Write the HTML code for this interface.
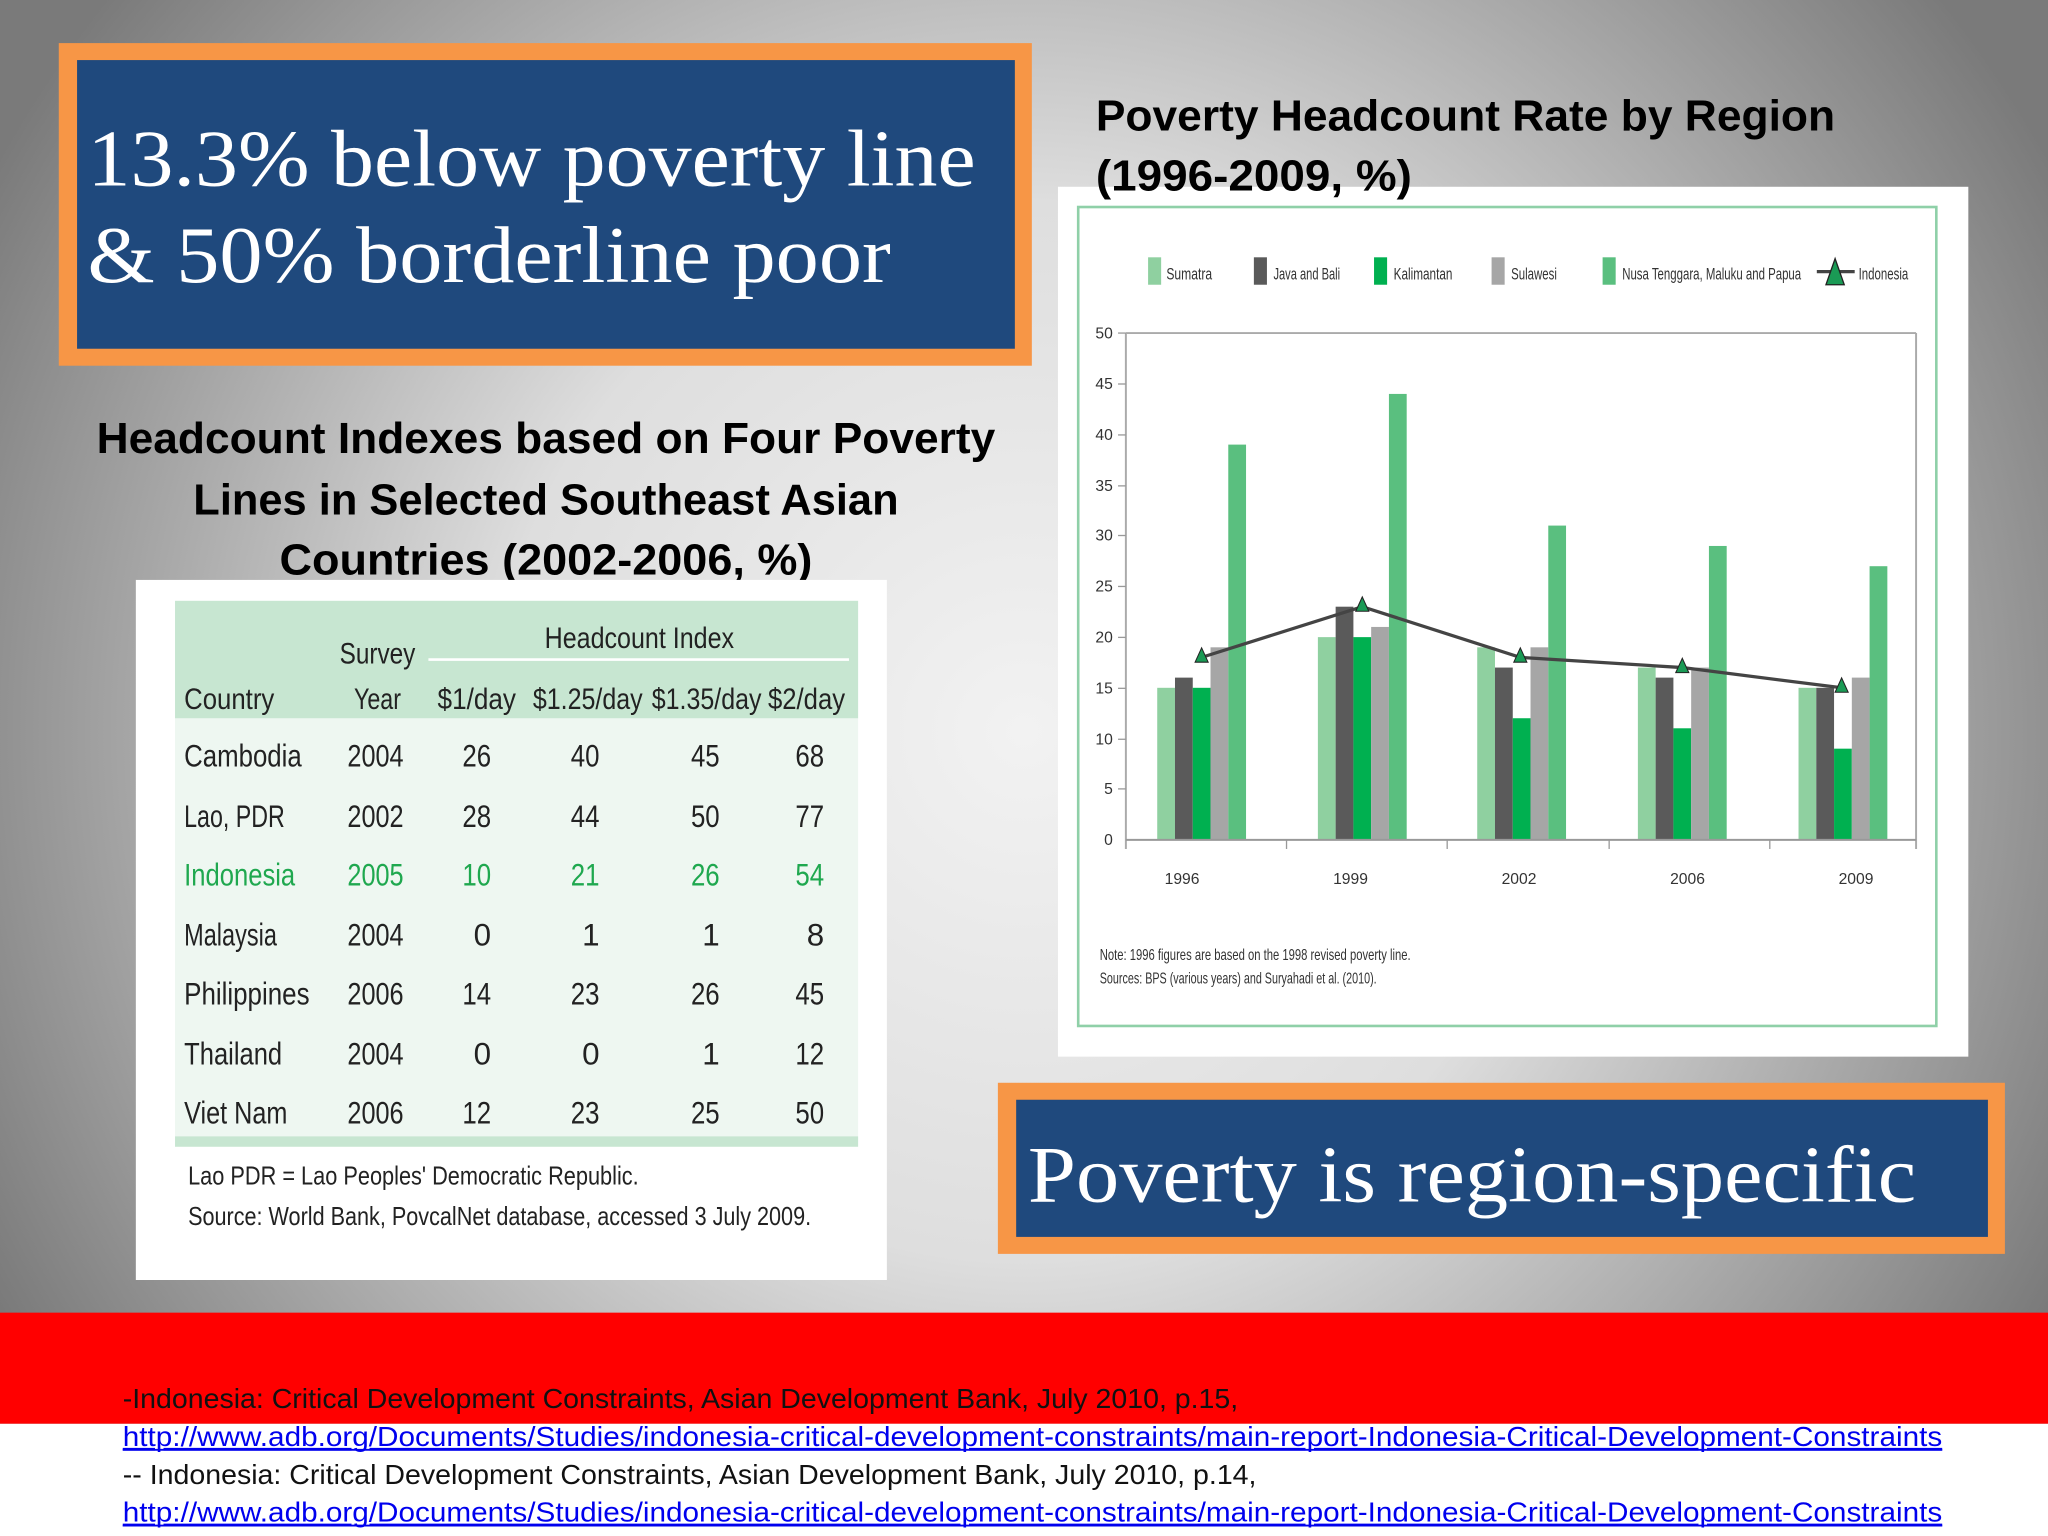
<!DOCTYPE html>
<html><head><meta charset="utf-8"><style>html,body{margin:0;padding:0;background:#fff}svg{display:block}</style></head>
<body>
<svg width="2048" height="1536" viewBox="0 0 1568 1176" xmlns="http://www.w3.org/2000/svg">
<defs>
<radialGradient id="bg" cx="784" cy="560" r="900" gradientUnits="userSpaceOnUse">
<stop offset="0" stop-color="#f2f2f2"/><stop offset="0.45" stop-color="#dedede"/><stop offset="1" stop-color="#7a7a7a"/>
</radialGradient>
</defs>
<rect x="0" y="0" width="1568" height="1176" fill="url(#bg)"/>
<rect x="0" y="1090" width="1568" height="86" fill="#ffffff"/>
<rect x="0" y="1005" width="1568" height="85" fill="#ff0000"/>

<rect x="45" y="33" width="745" height="247" fill="#f79646"/>
<rect x="59" y="46" width="718" height="221" fill="#1f497d"/>
<g font-family="Liberation Serif, serif" fill="#fff" font-size="62">
<text x="67" y="142" textLength="680" lengthAdjust="spacingAndGlyphs">13.3% below poverty line</text>
<text x="67" y="216" textLength="615" lengthAdjust="spacingAndGlyphs">&amp; 50% borderline poor</text>
</g>

<g font-family="Liberation Sans, sans-serif" font-weight="bold" font-size="33" fill="#000">
<text x="74" y="347" textLength="688" lengthAdjust="spacingAndGlyphs">Headcount Indexes based on Four Poverty</text>
<text x="148" y="394" textLength="540" lengthAdjust="spacingAndGlyphs">Lines in Selected Southeast Asian</text>
<text x="214" y="440" textLength="408" lengthAdjust="spacingAndGlyphs">Countries (2002-2006, %)</text>
</g>

<rect x="104" y="444" width="575" height="536" fill="#fff"/>
<rect x="134" y="460" width="523" height="90" fill="#c7e6d1"/>
<rect x="134" y="550" width="523" height="320" fill="#eef7f1"/>
<rect x="134" y="870" width="523" height="8" fill="#c7e6d1"/>
<line x1="328" y1="505" x2="650" y2="505" stroke="#fff" stroke-width="2"/>
<g font-family="Liberation Sans, sans-serif" font-size="23" fill="#222" lengthAdjust="spacingAndGlyphs">
<text x="260" y="508" textLength="58" lengthAdjust="spacingAndGlyphs">Survey</text>
<text x="417" y="496" textLength="145" lengthAdjust="spacingAndGlyphs">Headcount Index</text>
<text x="141" y="543" textLength="69" lengthAdjust="spacingAndGlyphs">Country</text>
<text x="271" y="543" textLength="36" lengthAdjust="spacingAndGlyphs">Year</text>
<text x="335" y="543" textLength="60" lengthAdjust="spacingAndGlyphs">$1/day</text>
<text x="408" y="543" textLength="84" lengthAdjust="spacingAndGlyphs">$1.25/day</text>
<text x="499" y="543" textLength="84" lengthAdjust="spacingAndGlyphs">$1.35/day</text>
<text x="588" y="543" textLength="59" lengthAdjust="spacingAndGlyphs">$2/day</text>
</g>
<g font-family="Liberation Sans, sans-serif" font-size="24" fill="#222">
<g transform="translate(0,587)"><text x="141" textLength="90" lengthAdjust="spacingAndGlyphs">Cambodia</text><text x="266" textLength="43" lengthAdjust="spacingAndGlyphs">2004</text><text x="354" textLength="22" lengthAdjust="spacingAndGlyphs">26</text><text x="437" textLength="22" lengthAdjust="spacingAndGlyphs">40</text><text x="529" textLength="22" lengthAdjust="spacingAndGlyphs">45</text><text x="609" textLength="22" lengthAdjust="spacingAndGlyphs">68</text></g>
<g transform="translate(0,633)"><text x="141" textLength="77" lengthAdjust="spacingAndGlyphs">Lao, PDR</text><text x="266" textLength="43" lengthAdjust="spacingAndGlyphs">2002</text><text x="354" textLength="22" lengthAdjust="spacingAndGlyphs">28</text><text x="437" textLength="22" lengthAdjust="spacingAndGlyphs">44</text><text x="529" textLength="22" lengthAdjust="spacingAndGlyphs">50</text><text x="609" textLength="22" lengthAdjust="spacingAndGlyphs">77</text></g>
<g transform="translate(0,678)" fill="#1fa84f"><text x="141" textLength="85" lengthAdjust="spacingAndGlyphs">Indonesia</text><text x="266" textLength="43" lengthAdjust="spacingAndGlyphs">2005</text><text x="354" textLength="22" lengthAdjust="spacingAndGlyphs">10</text><text x="437" textLength="22" lengthAdjust="spacingAndGlyphs">21</text><text x="529" textLength="22" lengthAdjust="spacingAndGlyphs">26</text><text x="609" textLength="22" lengthAdjust="spacingAndGlyphs">54</text></g>
<g transform="translate(0,724)"><text x="141" textLength="71" lengthAdjust="spacingAndGlyphs">Malaysia</text><text x="266" textLength="43" lengthAdjust="spacingAndGlyphs">2004</text><text x="376" text-anchor="end">0</text><text x="459" text-anchor="end">1</text><text x="551" text-anchor="end">1</text><text x="631" text-anchor="end">8</text></g>
<g transform="translate(0,769)"><text x="141" textLength="96" lengthAdjust="spacingAndGlyphs">Philippines</text><text x="266" textLength="43" lengthAdjust="spacingAndGlyphs">2006</text><text x="354" textLength="22" lengthAdjust="spacingAndGlyphs">14</text><text x="437" textLength="22" lengthAdjust="spacingAndGlyphs">23</text><text x="529" textLength="22" lengthAdjust="spacingAndGlyphs">26</text><text x="609" textLength="22" lengthAdjust="spacingAndGlyphs">45</text></g>
<g transform="translate(0,815)"><text x="141" textLength="75" lengthAdjust="spacingAndGlyphs">Thailand</text><text x="266" textLength="43" lengthAdjust="spacingAndGlyphs">2004</text><text x="376" text-anchor="end">0</text><text x="459" text-anchor="end">0</text><text x="551" text-anchor="end">1</text><text x="609" textLength="22" lengthAdjust="spacingAndGlyphs">12</text></g>
<g transform="translate(0,860)"><text x="141" textLength="79" lengthAdjust="spacingAndGlyphs">Viet Nam</text><text x="266" textLength="43" lengthAdjust="spacingAndGlyphs">2006</text><text x="354" textLength="22" lengthAdjust="spacingAndGlyphs">12</text><text x="437" textLength="22" lengthAdjust="spacingAndGlyphs">23</text><text x="529" textLength="22" lengthAdjust="spacingAndGlyphs">25</text><text x="609" textLength="22" lengthAdjust="spacingAndGlyphs">50</text></g>
</g>
<g font-family="Liberation Sans, sans-serif" font-size="20" fill="#222">
<text x="144" y="907" textLength="345" lengthAdjust="spacingAndGlyphs">Lao PDR = Lao Peoples' Democratic Republic.</text>
<text x="144" y="938" textLength="477" lengthAdjust="spacingAndGlyphs">Source: World Bank, PovcalNet database, accessed 3 July 2009.</text>
</g>

<rect x="810" y="143" width="697" height="666" fill="#fff"/>
<rect x="825.5" y="158.5" width="657" height="627" fill="none" stroke="#8fd0a8" stroke-width="2"/>
<g font-family="Liberation Sans, sans-serif" font-weight="bold" font-size="33" fill="#000">
<text x="839" y="100" textLength="566" lengthAdjust="spacingAndGlyphs">Poverty Headcount Rate by Region</text>
<text x="839" y="146" textLength="242" lengthAdjust="spacingAndGlyphs">(1996-2009, %)</text>
</g>
<g font-family="Liberation Sans, sans-serif" font-size="13" fill="#333">
<rect x="879" y="197" width="10" height="21" fill="#8fd0a0"/><text x="893" y="214" textLength="35" lengthAdjust="spacingAndGlyphs">Sumatra</text>
<rect x="960" y="197" width="10" height="21" fill="#5a5a5a"/><text x="975" y="214" textLength="51" lengthAdjust="spacingAndGlyphs">Java and Bali</text>
<rect x="1052" y="197" width="10" height="21" fill="#00b050"/><text x="1067" y="214" textLength="45" lengthAdjust="spacingAndGlyphs">Kalimantan</text>
<rect x="1142" y="197" width="10" height="21" fill="#a6a6a6"/><text x="1157" y="214" textLength="35" lengthAdjust="spacingAndGlyphs">Sulawesi</text>
<rect x="1227" y="197" width="10" height="21" fill="#5abf7f"/><text x="1242" y="214" textLength="137" lengthAdjust="spacingAndGlyphs">Nusa Tenggara, Maluku and  Papua</text>
<line x1="1391" y1="208" x2="1420" y2="208" stroke="#444" stroke-width="2.5"/>
<polygon points="1405,198 1398,218 1412,218" fill="#1a9a55" stroke="#222" stroke-width="1"/>
<text x="1423" y="214" textLength="38" lengthAdjust="spacingAndGlyphs">Indonesia</text>
</g>
<g stroke="#aaa" stroke-width="1.5" fill="none">
<line x1="862" y1="255" x2="1467" y2="255"/>
<line x1="862" y1="255" x2="862" y2="650"/>
<line x1="1467" y1="255" x2="1467" y2="650"/>
</g>
<g stroke="#999" stroke-width="1">
<line x1="856" y1="255" x2="862" y2="255"/><line x1="856" y1="294" x2="862" y2="294"/><line x1="856" y1="333" x2="862" y2="333"/><line x1="856" y1="372" x2="862" y2="372"/><line x1="856" y1="410" x2="862" y2="410"/><line x1="856" y1="449" x2="862" y2="449"/><line x1="856" y1="488" x2="862" y2="488"/><line x1="856" y1="527" x2="862" y2="527"/><line x1="856" y1="566" x2="862" y2="566"/><line x1="856" y1="604" x2="862" y2="604"/>
<line x1="985" y1="643" x2="985" y2="650"/><line x1="1108" y1="643" x2="1108" y2="650"/><line x1="1232" y1="643" x2="1232" y2="650"/><line x1="1355" y1="643" x2="1355" y2="650"/>
</g>
<g font-family="Liberation Sans, sans-serif" font-size="12" fill="#333" text-anchor="end">
<text x="852" y="259">50</text><text x="852" y="298">45</text><text x="852" y="337">40</text><text x="852" y="376">35</text><text x="852" y="414">30</text><text x="852" y="453">25</text><text x="852" y="492">20</text><text x="852" y="531">15</text><text x="852" y="570">10</text><text x="852" y="608">5</text><text x="852" y="647">0</text>
</g>
<g font-family="Liberation Sans, sans-serif" font-size="12" fill="#333" text-anchor="middle">
<text x="905" y="677">1996</text><text x="1034" y="677">1999</text><text x="1163" y="677">2002</text><text x="1292" y="677">2006</text><text x="1421" y="677">2009</text>
</g>
<g>
<rect x="886" y="526.6" width="13.6" height="116.4" fill="#8fd0a0"/>
<rect x="899.6" y="518.8" width="13.6" height="124.2" fill="#5a5a5a"/>
<rect x="913.2" y="526.6" width="13.6" height="116.4" fill="#00b050"/>
<rect x="926.8" y="495.6" width="13.6" height="147.4" fill="#a6a6a6"/>
<rect x="940.4" y="340.4" width="13.6" height="302.6" fill="#5abf7f"/>
<rect x="1009" y="487.8" width="13.6" height="155.2" fill="#8fd0a0"/>
<rect x="1022.6" y="464.5" width="13.6" height="178.5" fill="#5a5a5a"/>
<rect x="1036.2" y="487.8" width="13.6" height="155.2" fill="#00b050"/>
<rect x="1049.8" y="480" width="13.6" height="163" fill="#a6a6a6"/>
<rect x="1063.4" y="301.6" width="13.6" height="341.4" fill="#5abf7f"/>
<rect x="1131" y="495.6" width="13.6" height="147.4" fill="#8fd0a0"/>
<rect x="1144.6" y="511.1" width="13.6" height="131.9" fill="#5a5a5a"/>
<rect x="1158.2" y="549.9" width="13.6" height="93.1" fill="#00b050"/>
<rect x="1171.8" y="495.6" width="13.6" height="147.4" fill="#a6a6a6"/>
<rect x="1185.4" y="402.4" width="13.6" height="240.6" fill="#5abf7f"/>
<rect x="1254" y="511.1" width="13.6" height="131.9" fill="#8fd0a0"/>
<rect x="1267.6" y="518.8" width="13.6" height="124.2" fill="#5a5a5a"/>
<rect x="1281.2" y="557.6" width="13.6" height="85.4" fill="#00b050"/>
<rect x="1294.8" y="511.1" width="13.6" height="131.9" fill="#a6a6a6"/>
<rect x="1308.4" y="418" width="13.6" height="225" fill="#5abf7f"/>
<rect x="1377" y="526.6" width="13.6" height="116.4" fill="#8fd0a0"/>
<rect x="1390.6" y="526.6" width="13.6" height="116.4" fill="#5a5a5a"/>
<rect x="1404.2" y="573.2" width="13.6" height="69.8" fill="#00b050"/>
<rect x="1417.8" y="518.8" width="13.6" height="124.2" fill="#a6a6a6"/>
<rect x="1431.4" y="433.5" width="13.6" height="209.5" fill="#5abf7f"/>
</g>
<line x1="862" y1="643" x2="1467" y2="643" stroke="#999" stroke-width="1.5"/>
<polyline points="920,503.3 1043,464.5 1164,503.3 1288,511.1 1410,526.6" fill="none" stroke="#444" stroke-width="2.5"/>
<g fill="#1a9a55" stroke="#222" stroke-width="0.8">
<polygon points="920,496 915,507 925,507"/>
<polygon points="1043,457 1038,468 1048,468"/>
<polygon points="1164,496 1159,507 1169,507"/>
<polygon points="1288,504 1283,515 1293,515"/>
<polygon points="1410,519 1405,530 1415,530"/>
</g>
<g font-family="Liberation Sans, sans-serif" font-size="12" fill="#333">
<text x="842" y="735" textLength="238" lengthAdjust="spacingAndGlyphs">Note: 1996 figures are based on the 1998 revised poverty line.</text>
<text x="842" y="753" textLength="212" lengthAdjust="spacingAndGlyphs">Sources: BPS (various years) and Suryahadi et al. (2010).</text>
</g>

<rect x="764" y="829" width="771" height="131" fill="#f79646"/>
<rect x="778" y="842" width="744" height="105" fill="#1f497d"/>
<text x="787" y="920" font-family="Liberation Serif, serif" font-size="62" fill="#fff" textLength="680" lengthAdjust="spacingAndGlyphs">Poverty is region-specific</text>

<g font-family="Liberation Sans, sans-serif" font-size="21">
<text x="94" y="1078" fill="#111" textLength="854" lengthAdjust="spacingAndGlyphs">-Indonesia: Critical Development Constraints, Asian Development Bank, July 2010, p.15,</text>
<text x="94" y="1107" fill="#0000ee" text-decoration="underline" textLength="1393" lengthAdjust="spacingAndGlyphs">http://www.adb.org/Documents/Studies/indonesia-critical-development-constraints/main-report-Indonesia-Critical-Development-Constraints</text>
<text x="94" y="1136" fill="#111" textLength="868" lengthAdjust="spacingAndGlyphs">-- Indonesia: Critical Development Constraints, Asian Development Bank, July 2010, p.14,</text>
<text x="94" y="1165" fill="#0000ee" text-decoration="underline" textLength="1393" lengthAdjust="spacingAndGlyphs">http://www.adb.org/Documents/Studies/indonesia-critical-development-constraints/main-report-Indonesia-Critical-Development-Constraints</text>
</g>
<line x1="94" y1="1110" x2="1487" y2="1110" stroke="#0000ee" stroke-width="1.5"/>
<line x1="94" y1="1168" x2="1487" y2="1168" stroke="#0000ee" stroke-width="1.5"/>
</svg>
</body></html>
